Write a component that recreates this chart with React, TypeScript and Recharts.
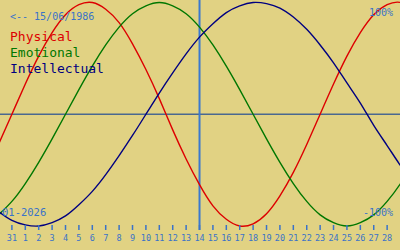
import { LineChart, Line, XAxis, YAxis, ReferenceLine } from "recharts";

// day offsets: 0 = 31 Dec, 1..28 = days of January
const days = [-1, 0, 1, 2, 3, 4, 5, 6, 7, 8, 9, 10, 11, 12, 13, 14, 15, 16, 17, 18, 19, 20, 21, 22, 23, 24, 25, 26, 27, 28, 29, 30];
const physical = [-27, 0, 27, 52, 73, 89, 98, 100, 94, 82, 63, 40, 14, -14, -40, -63, -82, -94, -100, -98, -89, -73, -52, -27, 0, 27, 52, 73, 89, 98, 100, 94];
const emotional = [-90, -78, -62, -43, -22, 0, 22, 43, 62, 78, 90, 97, 100, 97, 90, 78, 62, 43, 22, 0, -22, -43, -62, -78, -90, -97, -100, -97, -90, -78, -62, -43];
const intellectual = [-87, -95, -99, -100, -97, -91, -81, -69, -54, -37, -19, 0, 19, 37, 54, 69, 81, 91, 97, 100, 99, 95, 87, 76, 62, 46, 28, 10, -10, -28, -46, -62];

const tickDays = [0, 1, 2, 3, 4, 5, 6, 7, 8, 9, 10, 11, 12, 13, 14, 15, 16, 17, 18, 19, 20, 21, 22, 23, 24, 25, 26, 27, 28];
const tickLabels = ["31", "1", "2", "3", "4", "5", "6", "7", "8", "9", "10", "11", "12", "13", "14", "15", "16", "17", "18", "19", "20", "21", "22", "23", "24", "25", "26", "27", "28"];

const today = 14;
const birthLabel = "<-- 15/06/1986";
const monthLabel = "01-2026";

const BG = "#e1d283";
const BLUE = "#3a72c8";
const MONO = "'DejaVu Sans Mono', monospace";

const data = days.map((day, i) => ({
  day,
  physical: physical[i],
  emotional: emotional[i],
  intellectual: intellectual[i],
}));

function DayTick(props: any) {
  const { x, y, payload } = props;
  const label = tickLabels[tickDays.indexOf(payload.value)];
  return (
    <g>
      <line x1={x} x2={x} y1={y - 5} y2={y} stroke={BLUE} strokeWidth={1.5} />
      <text x={x} y={y + 11} textAnchor="middle" fill={BLUE} fontSize={8.5} fontFamily={MONO}>
        {label}
      </text>
    </g>
  );
}

export default function App() {
  return (
    <div style={{ position: "absolute", left: 0, top: 0, width: 400, height: 250, background: BG }}>
      <LineChart width={400} height={250} data={data} margin={{ top: 0, right: 0, bottom: 0, left: 0 }}>
        <XAxis
          dataKey="day"
          type="number"
          domain={[-0.888, 28.96]}
          allowDataOverflow
          ticks={tickDays}
          interval={0}
          tick={<DayTick />}
          tickSize={0}
          tickMargin={0}
          axisLine={false}
          tickLine={false}
          height={20}
        />
        <YAxis hide domain={[-103.58, 102.24]} allowDataOverflow />
        <ReferenceLine y={0} stroke="#4a6890" strokeWidth={1.5} />
        <ReferenceLine x={today} stroke="#3a78d0" strokeWidth={2} />
        <Line type="natural" dataKey="physical" stroke="#dd0000" strokeWidth={1.4} dot={false} isAnimationActive={false} />
        <Line type="natural" dataKey="emotional" stroke="#007700" strokeWidth={1.4} dot={false} isAnimationActive={false} />
        <Line type="natural" dataKey="intellectual" stroke="#000080" strokeWidth={1.4} dot={false} isAnimationActive={false} />
      </LineChart>
      <svg width={400} height={250} style={{ position: "absolute", left: 0, top: 0, pointerEvents: "none" }}>
        <text x={10} y={20} fontSize={10} fill={BLUE} fontFamily={MONO}>{birthLabel}</text>
        <text x={10} y={41} fontSize={13} fill="#dd0000" fontFamily={MONO}>Physical</text>
        <text x={10} y={57} fontSize={13} fill="#007700" fontFamily={MONO}>Emotional</text>
        <text x={10} y={73} fontSize={13} fill="#000080" fontFamily={MONO}>Intellectual</text>
        <text x={393} y={16} fontSize={10} fill={BLUE} fontFamily={MONO} textAnchor="end">100%</text>
        <text x={393} y={216} fontSize={10} fill={BLUE} fontFamily={MONO} textAnchor="end">-100%</text>
        <text x={2} y={216} fontSize={10.5} fill={BLUE} fontFamily={MONO}>{monthLabel}</text>
      </svg>
    </div>
  );
}
